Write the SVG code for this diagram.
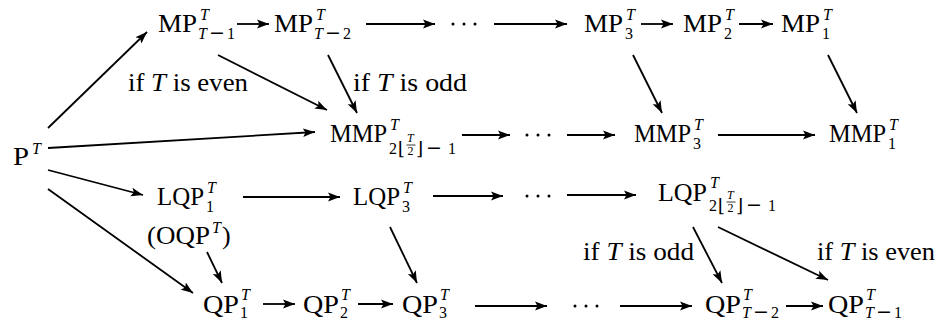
<svg xmlns="http://www.w3.org/2000/svg" width="937" height="322" viewBox="0 0 937 322">
<defs>
<marker id="ah" markerWidth="13" markerHeight="10" refX="12" refY="5" orient="auto" markerUnits="userSpaceOnUse"><path d="M0,0.6 L12,5 L0,9.4 L2.5,5 z" fill="#000"/></marker>
</defs>
<style>
text{font-family:"Liberation Serif","DejaVu Serif",serif;fill:#000}
.m{font-size:26px}
.s{font-size:16px}
.ss{font-size:12px}
.mi{font-family:"DejaVu Serif",serif;font-size:19px}
.fl{font-size:18px;font-family:"DejaVu Serif",serif}
.i{font-style:italic}
.c line{stroke:#000;stroke-width:1.8;fill:none;marker-end:url(#ah)}
.dots circle{fill:#000}
.bar{stroke:#000;stroke-width:0.8}
.lbl{font-size:26px}
</style>
<rect width="937" height="322" fill="#fff"/>

<g id="P">
<text class="m" x="13" y="165" textLength="16" lengthAdjust="spacingAndGlyphs">P</text><text class="s i" x="32" y="154">T</text>
</g>

<g id="MP_Tm1">
<text class="m" x="158" y="32" textLength="39" lengthAdjust="spacingAndGlyphs">MP</text><text class="s i" x="200" y="20">T</text>
<text class="s" y="39"><tspan class="i" x="198">T</tspan><tspan class="mi" x="209">−</tspan><tspan x="227">1</tspan></text>
</g>
<g id="MP_Tm2">
<text class="m" x="274" y="32" textLength="39" lengthAdjust="spacingAndGlyphs">MP</text><text class="s i" x="316" y="20">T</text>
<text class="s" y="39"><tspan class="i" x="314">T</tspan><tspan class="mi" x="325">−</tspan><tspan x="343">2</tspan></text>
</g>
<g id="dots1" class="dots"><circle cx="453" cy="24" r="1.5"/><circle cx="464" cy="24" r="1.5"/><circle cx="475" cy="24" r="1.5"/></g>
<g id="MP_3">
<text class="m" x="584" y="32" textLength="39" lengthAdjust="spacingAndGlyphs">MP</text><text class="s i" x="626" y="20">T</text><text class="s" x="625" y="39">3</text>
</g>
<g id="MP_2">
<text class="m" x="683" y="32" textLength="39" lengthAdjust="spacingAndGlyphs">MP</text><text class="s i" x="725" y="20">T</text><text class="s" x="724" y="39">2</text>
</g>
<g id="MP_1">
<text class="m" x="781" y="32" textLength="39" lengthAdjust="spacingAndGlyphs">MP</text><text class="s i" x="823" y="20">T</text><text class="s" x="822" y="39">1</text>
</g>

<g id="MMP_floor">
<text class="m" x="330" y="142" textLength="57" lengthAdjust="spacingAndGlyphs">MMP</text><text class="s i" x="390" y="130">T</text>
<text class="s" x="389" y="154">2</text><text class="fl" x="398" y="155">⌊</text>
<text class="ss i" x="407" y="142">T</text><line class="bar" x1="406.5" y1="145" x2="415.5" y2="145"/><text class="ss" x="407.5" y="155">2</text>
<text class="fl" x="416" y="155">⌋</text><text class="s" y="154"><tspan class="mi" x="426">−</tspan><tspan x="448">1</tspan></text>
</g>
<g id="dots2" class="dots"><circle cx="527" cy="135" r="1.5"/><circle cx="538" cy="135" r="1.5"/><circle cx="549" cy="135" r="1.5"/></g>
<g id="MMP_3">
<text class="m" x="634" y="142" textLength="57" lengthAdjust="spacingAndGlyphs">MMP</text><text class="s i" x="694" y="130">T</text><text class="s" x="693" y="149">3</text>
</g>
<g id="MMP_1">
<text class="m" x="829" y="142" textLength="57" lengthAdjust="spacingAndGlyphs">MMP</text><text class="s i" x="889" y="130">T</text><text class="s" x="888" y="149">1</text>
</g>

<g id="LQP_1">
<text class="m" x="157" y="205" textLength="47" lengthAdjust="spacingAndGlyphs">LQP</text><text class="s i" x="207" y="193">T</text><text class="s" x="206" y="212">1</text>
<text class="m" x="147" y="244" textLength="63" lengthAdjust="spacingAndGlyphs">(OQP</text><text class="s i" x="212" y="233">T</text><text class="m" x="222" y="244">)</text>
</g>
<g id="LQP_3">
<text class="m" x="353" y="205" textLength="47" lengthAdjust="spacingAndGlyphs">LQP</text><text class="s i" x="403" y="193">T</text><text class="s" x="402" y="212">3</text>
</g>
<g id="dots3" class="dots"><circle cx="527" cy="196" r="1.5"/><circle cx="538" cy="196" r="1.5"/><circle cx="549" cy="196" r="1.5"/></g>
<g id="LQP_floor">
<text class="m" x="658" y="201" textLength="49" lengthAdjust="spacingAndGlyphs">LQP</text><text class="s i" x="710" y="188">T</text>
<text class="s" x="709" y="211">2</text><text class="fl" x="718" y="212">⌊</text>
<text class="ss i" x="727" y="199">T</text><line class="bar" x1="726.5" y1="202" x2="735.5" y2="202"/><text class="ss" x="727.5" y="212">2</text>
<text class="fl" x="736" y="212">⌋</text><text class="s" y="211"><tspan class="mi" x="746">−</tspan><tspan x="768">1</tspan></text>
</g>

<g id="QP_1">
<text class="m" x="203" y="313" textLength="36" lengthAdjust="spacingAndGlyphs">QP</text><text class="s i" x="241" y="300">T</text><text class="s" x="240" y="318">1</text>
</g>
<g id="QP_2">
<text class="m" x="303" y="313" textLength="36" lengthAdjust="spacingAndGlyphs">QP</text><text class="s i" x="341" y="300">T</text><text class="s" x="340" y="318">2</text>
</g>
<g id="QP_3">
<text class="m" x="402" y="313" textLength="36" lengthAdjust="spacingAndGlyphs">QP</text><text class="s i" x="440" y="300">T</text><text class="s" x="439" y="318">3</text>
</g>
<g id="dots4" class="dots"><circle cx="575" cy="306" r="1.5"/><circle cx="586" cy="306" r="1.5"/><circle cx="597" cy="306" r="1.5"/></g>
<g id="QP_Tm2">
<text class="m" x="705" y="313" textLength="36" lengthAdjust="spacingAndGlyphs">QP</text><text class="s i" x="743" y="300">T</text>
<text class="s" y="318"><tspan class="i" x="742">T</tspan><tspan class="mi" x="753">−</tspan><tspan x="771">2</tspan></text>
</g>
<g id="QP_Tm1">
<text class="m" x="828" y="313" textLength="36" lengthAdjust="spacingAndGlyphs">QP</text><text class="s i" x="866" y="300">T</text>
<text class="s" y="318"><tspan class="i" x="865">T</tspan><tspan class="mi" x="876">−</tspan><tspan x="894">1</tspan></text>
</g>

<g id="connectors" class="c">
<line x1="237" y1="24" x2="269" y2="24"/>
<line x1="366" y1="24" x2="435" y2="24"/>
<line x1="494" y1="24" x2="567" y2="24"/>
<line x1="641" y1="24" x2="673" y2="24"/>
<line x1="739" y1="24" x2="773" y2="24"/>
<line x1="462" y1="135" x2="510" y2="135"/>
<line x1="567" y1="135" x2="615" y2="135"/>
<line x1="718" y1="135" x2="815" y2="135"/>
<line x1="243" y1="197" x2="340" y2="197"/>
<line x1="433" y1="196" x2="503" y2="196"/>
<line x1="567" y1="195" x2="636" y2="195"/>
<line x1="263" y1="304" x2="295" y2="304"/>
<line x1="358" y1="304" x2="393" y2="304"/>
<line x1="475" y1="306" x2="547" y2="306"/>
<line x1="620" y1="306" x2="692" y2="306"/>
<line x1="786" y1="306" x2="823" y2="306"/>
<line x1="48" y1="128" x2="147" y2="32"/>
<line x1="48" y1="148" x2="315" y2="132"/>
<line x1="48" y1="170" x2="143" y2="195"/>
<line x1="48" y1="189" x2="193" y2="293"/>
<line x1="218" y1="55" x2="327" y2="110"/>
<line x1="328" y1="55" x2="357" y2="113"/>
<line x1="633" y1="55" x2="662" y2="113"/>
<line x1="828" y1="55" x2="857" y2="113"/>
<line x1="207" y1="252" x2="222" y2="283"/>
<line x1="390" y1="227" x2="417" y2="283"/>
<line x1="693" y1="227" x2="722" y2="283"/>
<line x1="718" y1="227" x2="828" y2="280"/>
</g>

<g id="labels">
<text class="lbl" x="128" y="91" textLength="120" lengthAdjust="spacingAndGlyphs">if <tspan class="i">T</tspan> is even</text>
<text class="lbl" x="353" y="91" textLength="114" lengthAdjust="spacingAndGlyphs">if <tspan class="i">T</tspan> is odd</text>
<text class="lbl" x="583" y="260" textLength="111" lengthAdjust="spacingAndGlyphs">if <tspan class="i">T</tspan> is odd</text>
<text class="lbl" x="817" y="260" textLength="118" lengthAdjust="spacingAndGlyphs">if <tspan class="i">T</tspan> is even</text>
</g>
</svg>
